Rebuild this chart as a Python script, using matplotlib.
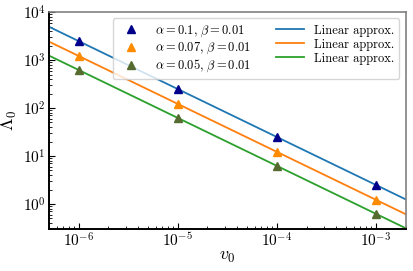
import numpy as np
import matplotlib
matplotlib.use('Agg')
import matplotlib.pyplot as plt

plt.rcParams['font.family'] = 'serif'
plt.rcParams['font.serif'] = ['cmr10']
plt.rcParams['mathtext.fontset'] = 'cm'
plt.rcParams['axes.unicode_minus'] = False
plt.rcParams['axes.formatter.use_mathtext'] = True

# data points
v0 = [1e-6, 1e-5, 1e-4, 1e-3]
lam_a01 = [2500, 250, 25, 2.5]
lam_a007 = [1225, 122.5, 12.25, 1.225]
lam_a005 = [625, 62.5, 6.25, 0.625]

# linear approximation (end points)
v0_lin = [5e-7, 2e-3]
lin_a01 = [5000, 1.25]
lin_a007 = [2450, 0.6125]
lin_a005 = [1250, 0.3125]

fig, ax = plt.subplots(figsize=(4.13, 2.71), dpi=100)
fig.subplots_adjust(left=0.118, right=0.982, top=0.955, bottom=0.155)

ax.plot(v0, lam_a01, '^', color='darkblue', ms=6, zorder=3,
        label=r'$\alpha=0.1,\,\beta=0.01$')
ax.plot(v0, lam_a007, '^', color='darkorange', ms=6, zorder=3,
        label=r'$\alpha=0.07,\,\beta=0.01$')
ax.plot(v0, lam_a005, '^', color='darkolivegreen', ms=6, zorder=3,
        label=r'$\alpha=0.05,\,\beta=0.01$')
ax.plot(v0_lin, lin_a01, '-', color='C0', lw=1.3, label='Linear approx.')
ax.plot(v0_lin, lin_a007, '-', color='C1', lw=1.3, label='Linear approx.')
ax.plot(v0_lin, lin_a005, '-', color='C2', lw=1.3, label='Linear approx.')

ax.set_xscale('log')
ax.set_yscale('log')
ax.set_xlim(5e-7, 2e-3)
ax.set_ylim(0.3, 1e4)
ax.set_xlabel(r'$v_0$', fontsize=13, labelpad=0)
ax.set_ylabel(r'$\Lambda_0$', fontsize=13, labelpad=3)

ax.tick_params(which='both', direction='in', labelsize=11, pad=2)
ax.tick_params(which='major', length=4)
ax.tick_params(which='minor', length=2)
for s in ['left', 'bottom']:
    ax.spines[s].set_color('black')
    ax.spines[s].set_linewidth(1.4)
for s in ['top', 'right']:
    ax.spines[s].set_color('gray')
    ax.spines[s].set_linewidth(1.2)

ax.legend(ncol=2, fontsize=9, loc='upper right', framealpha=0.8,
          handlelength=2.2, columnspacing=2.0, labelspacing=0.15,
          borderaxespad=0.5)

plt.savefig('out.png', dpi=100)
